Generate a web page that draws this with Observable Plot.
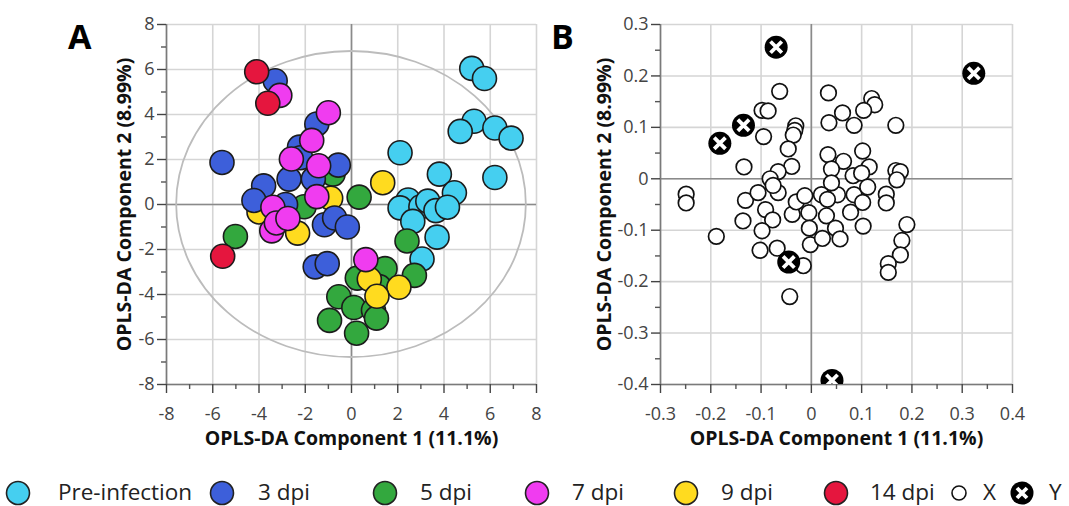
<!DOCTYPE html>
<html>
<head>
<meta charset="utf-8">
<script src="https://cdn.jsdelivr.net/npm/d3@7"></script>
<script src="https://cdn.jsdelivr.net/npm/@observablehq/plot@0.6"></script>
<style>
html,body{margin:0;padding:0;background:#fff;}
#wrap{position:relative;width:1069px;height:506px;overflow:hidden;font-family:"Open Sans",sans-serif;}
.panel{position:absolute;top:0;}
.letter{position:absolute;font-family:"Open Sans",sans-serif;font-weight:700;font-size:34px;line-height:34px;color:#000;}
.legsw{position:absolute;top:479px;}
.legtext{position:absolute;top:477px;font-size:22.5px;line-height:30px;color:#222;white-space:nowrap;}
</style>
</head>
<body>
<div id="wrap"></div>
<script>
// ---------- DATA ----------
const groups = ["Pre-infection", "3 dpi", "5 dpi", "7 dpi", "9 dpi", "14 dpi"];
const groupColors = ["#45cff0", "#3d5fda", "#33a83e", "#f03cf0", "#ffdb1f", "#e5163e"];

// Panel A scores: OPLS-DA component 1 / component 2, per group
const preC1 = [5.2, 5.75, 5.3, 4.7, 6.2, 6.9, 6.2, 2.1, 3.8, 4.45, 2.45, 2.1, 3.0, 3.3, 3.65, 4.15, 2.65, 3.7, 3.05];
const preC2 = [6.05, 5.6, 3.7, 3.25, 3.4, 2.95, 1.2, 2.3, 1.35, 0.52, 0.2, -0.15, -0.1, 0.15, -0.27, -0.12, -0.75, -1.45, -2.42];
const d3C1 = [-3.3, -1.5, -2.25, -5.6, -2.2, -0.57, -1.65, -2.7, -3.8, -4.22, -2.85, -1.17, -0.73, -0.18, -1.57, -1.05];
const d3C2 = [5.5, 3.58, 2.55, 1.87, 2.08, 1.75, 1.13, 1.13, 0.83, 0.18, 0.0, -0.9, -0.6, -1.0, -2.77, -2.63];
const d5C1 = [-0.8, 0.33, -2.05, -5.02, 2.4, 2.72, 1.45, 0.25, 1.2, -0.55, 0.1, 0.95, 1.08, -0.95, 0.22];
const d5C2 = [1.35, 0.33, -0.1, -1.42, -1.62, -3.15, -2.85, -3.27, -3.65, -4.1, -4.58, -4.7, -5.05, -5.15, -5.72];
const d7C1 = [-3.1, -1.0, -1.72, -2.6, -1.42, -1.5, -3.4, -3.45, -3.25, -2.75, 0.62];
const d7C2 = [4.85, 4.08, 2.85, 2.02, 1.72, 0.35, -0.12, -1.17, -0.82, -0.62, -2.45];
const d9C1 = [-0.9, 1.35, -4.0, -2.33, 0.77, 2.05, 1.1];
const d9C2 = [0.28, 0.97, -0.33, -1.27, -3.32, -3.68, -4.08];
const d14C1 = [-4.1, -3.62, -5.57];
const d14C2 = [5.9, 4.5, -2.3];
const drawOrder = [0, 2, 4, 1, 3, 5]; // group index order (cyan, green, yellow, blue, magenta, red)

// Hotelling ellipse semi-axes (component units)
const ellipseRx = 7.56;
const ellipseRy = 6.8;

// Panel B loadings
const xVarC1 = [-0.063,-0.098,-0.086,-0.095,-0.031,-0.033,-0.036,-0.046,-0.039,-0.134,-0.066,-0.082,
  0.034,0.120,0.126,0.062,0.104,0.035,0.085,0.168,0.102,0.033,0.064,0.115,0.040,0.083,0.100,0.168,0.177,0.170,
  -0.249,-0.249,-0.189,-0.136,-0.131,-0.106,-0.066,-0.076,-0.091,-0.077,-0.098,-0.102,-0.068,-0.016,-0.043,-0.038,-0.030,-0.013,-0.005,-0.004,-0.002,
  0.022,0.030,0.028,0.052,0.048,0.057,0.078,0.085,0.102,0.103,0.112,0.149,0.149,0.190,0.180,0.177,0.153,0.153,0.040,0.020,0.032];
const xVarC2 = [0.170,0.133,0.132,0.082,0.103,0.094,0.085,0.058,0.024,0.023,0.014,0.000,
  0.167,0.156,0.144,0.128,0.133,0.109,0.104,0.104,0.054,0.047,0.034,0.023,0.019,0.006,0.011,0.016,0.014,-0.002,
  -0.030,-0.047,-0.112,-0.082,-0.042,-0.027,-0.027,-0.013,-0.060,-0.080,-0.101,-0.139,-0.135,-0.169,-0.229,-0.069,-0.045,-0.033,-0.066,-0.096,-0.128,
  -0.116,-0.072,-0.033,-0.031,-0.096,-0.117,-0.065,-0.031,-0.046,-0.092,-0.016,-0.030,-0.047,-0.089,-0.120,-0.148,-0.165,-0.182,-0.008,-0.031,-0.040];
const yVarC1 = [-0.070, 0.323, -0.135, -0.182, -0.045, 0.041];
const yVarC2 = [0.256, 0.205, 0.104, 0.069, -0.162, -0.392];

// Ticks
const ticksA = [-8, -6, -4, -2, 0, 2, 4, 6, 8];
const minorTicksA = [-7, -5, -3, -1, 1, 3, 5, 7];
const ticksBx = [-0.3, -0.2, -0.1, 0, 0.1, 0.2, 0.3, 0.4];
const minorBx = [-0.25, -0.15, -0.05, 0.05, 0.15, 0.25, 0.35];
const ticksBy = [-0.4, -0.3, -0.2, -0.1, 0, 0.1, 0.2, 0.3];
const minorBy = [-0.35, -0.25, -0.15, -0.05, 0.05, 0.15, 0.25];

const xLabel = "OPLS-DA Component 1 (11.1%)";
const yLabel = "OPLS-DA Component 2 (8.99%)";
const legendLabels = ["Pre-infection", "3 dpi", "5 dpi", "7 dpi", "9 dpi", "14 dpi", "X", "Y"];

// ---------- BUILD ----------
const NS = "http://www.w3.org/2000/svg";
const wrap = document.getElementById("wrap");
const fmt = d => String(d);
const gridColor = "#d5d5d5", zeroColor = "#8a8a8a", axisColor = "#7a7a7a", tickColor = "#555", labelColor = "#444";

const groupC1 = [preC1, d3C1, d5C1, d7C1, d9C1, d14C1];
const groupC2 = [preC2, d3C2, d5C2, d7C2, d9C2, d14C2];
const scoreData = drawOrder.flatMap(gi => groupC1[gi].map((v, j) => ({group: groups[gi], c1: v, c2: groupC2[gi][j]})));
const xLoad = xVarC1.map((v, i) => ({c1: v, c2: xVarC2[i]}));
const yLoad = yVarC1.map((v, i) => ({c1: v, c2: yVarC2[i]}));

function frameMarks(xt, xm, yt, ym, xmin, ymin, dxLab) {
  return [
    Plot.gridX({ticks: xt, stroke: gridColor, strokeOpacity: 1, strokeWidth: 1.6}),
    Plot.gridY({ticks: yt, stroke: gridColor, strokeOpacity: 1, strokeWidth: 1.6}),
    Plot.ruleX([0], {stroke: zeroColor, strokeWidth: 1.6}),
    Plot.ruleY([0], {stroke: zeroColor, strokeWidth: 1.6}),
    Plot.ruleX([xmin], {stroke: axisColor, strokeWidth: 1.6}),
    Plot.ruleY([ymin], {stroke: axisColor, strokeWidth: 1.6}),
    Plot.axisX({ticks: xm, tickSize: 5, tickFormat: () => "", label: null, color: tickColor, strokeWidth: 1.4}),
    Plot.axisY({ticks: ym, tickSize: 5, tickFormat: () => "", label: null, color: tickColor, strokeWidth: 1.4}),
    Plot.axisX({ticks: xt, tickSize: 9, tickPadding: 14, tickFormat: fmt, label: null, color: labelColor, fontSize: 18, strokeWidth: 1.4}),
    Plot.axisY({ticks: yt, tickSize: 9, tickPadding: 3, tickFormat: fmt, label: null, color: labelColor, fontSize: 18, strokeWidth: 1.4}),
    Plot.text([xLabel], {text: d => d, frameAnchor: "bottom", dy: 60, fontWeight: "bold", fontSize: 19.5, fill: "#111"}),
    Plot.text([yLabel], {text: d => d, frameAnchor: "left", textAnchor: "middle", rotate: -90, dx: dxLab, fontWeight: "bold", fontSize: 19.5, fill: "#111"})
  ];
}

const ellipseMark = (index, scales) => {
  const cx = scales.x(0), cy = scales.y(0);
  const el = document.createElementNS(NS, "ellipse");
  el.setAttribute("cx", cx);
  el.setAttribute("cy", cy);
  el.setAttribute("rx", Math.abs(scales.x(ellipseRx) - cx));
  el.setAttribute("ry", Math.abs(scales.y(ellipseRy) - cy));
  el.setAttribute("fill", "none");
  el.setAttribute("stroke", "#bcbcbc");
  el.setAttribute("stroke-width", "1.8");
  return el;
};

const plotA = Plot.plot({
  width: 560, height: 460,
  marginLeft: 166, marginRight: 24, marginTop: 24, marginBottom: 76,
  style: {fontFamily: '"Open Sans", sans-serif', background: "transparent", overflow: "visible"},
  x: {domain: [-8, 8], label: null},
  y: {domain: [-8, 8], label: null},
  color: {domain: groups, range: groupColors},
  marks: [
    ...frameMarks(ticksA, minorTicksA, ticksA, minorTicksA, -8, -8, -42),
    ellipseMark,
    Plot.dot(scoreData, {x: "c1", y: "c2", r: 12, fill: "group", stroke: "#1c1c1c", strokeWidth: 1.6})
  ]
});
plotA.classList.add("panel");
plotA.style.left = "0px";
wrap.appendChild(plotA);

const plotB = Plot.plot({
  width: 509, height: 460,
  marginLeft: 100, marginRight: 57, marginTop: 24, marginBottom: 76,
  style: {fontFamily: '"Open Sans", sans-serif', background: "transparent", overflow: "visible"},
  x: {domain: [-0.3, 0.4], label: null},
  y: {domain: [-0.4, 0.3], label: null},
  marks: [
    ...frameMarks(ticksBx, minorBx, ticksBy, minorBy, -0.3, -0.4, -56),
    Plot.dot(xLoad, {x: "c1", y: "c2", r: 7.8, fill: "white", stroke: "#111", strokeWidth: 1.7, clip: true}),
    Plot.dot(yLoad, {x: "c1", y: "c2", r: 11.5, fill: "#000", clip: true}),
    Plot.dot(yLoad, {x: "c1", y: "c2", r: 5.2, symbol: "times", stroke: "#fff", strokeWidth: 3.8, clip: true})
  ]
});
plotB.classList.add("panel");
plotB.style.left = "560px";
wrap.appendChild(plotB);

// Panel letters
[["A", 68], ["B", 551]].forEach(([t, l]) => {
  const d = document.createElement("div");
  d.className = "letter"; d.textContent = t;
  d.style.left = l + "px"; d.style.top = "19px";
  wrap.appendChild(d);
});

// Legend
const swatchCenters = [18, 222, 385, 537, 686, 836, 959, 1022];
const textLefts = [58, 258, 420, 572, 721, 870, 983, 1049];
legendLabels.forEach((lab, i) => {
  const s = d3.create("svg").attr("width", 28).attr("height", 28).attr("class", "legsw")
    .style("left", (swatchCenters[i] - 14) + "px");
  if (i < 6) {
    s.append("circle").attr("cx", 14).attr("cy", 14).attr("r", 11.5).attr("fill", groupColors[i]).attr("stroke", "#222").attr("stroke-width", 1.6);
  } else if (i === 6) {
    s.append("circle").attr("cx", 14).attr("cy", 14).attr("r", 7).attr("fill", "#fff").attr("stroke", "#111").attr("stroke-width", 1.6);
  } else {
    s.append("circle").attr("cx", 14).attr("cy", 14).attr("r", 11.5).attr("fill", "#000");
    s.append("path").attr("d", "M9,9L19,19M19,9L9,19").attr("stroke", "#fff").attr("stroke-width", 3.8);
  }
  wrap.appendChild(s.node());
  const t = document.createElement("div");
  t.className = "legtext"; t.textContent = lab;
  t.style.left = textLefts[i] + "px";
  wrap.appendChild(t);
});
</script>
</body>
</html>
